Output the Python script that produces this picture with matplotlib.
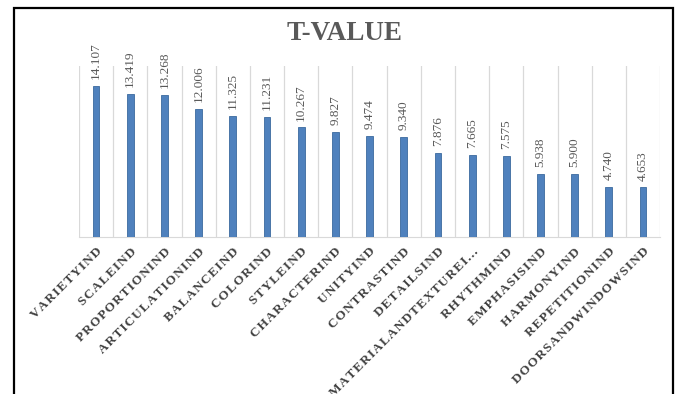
import matplotlib.pyplot as plt
from matplotlib.patches import Rectangle

# Категории и значения t-статистики
names = ['VARIETYIND', 'SCALEIND', 'PROPORTIONIND', 'ARTICULATIONIND',
         'BALANCEIND', 'COLORIND', 'STYLEIND', 'CHARACTERIND', 'UNITYIND',
         'CONTRASTIND', 'DETAILSIND', 'MATERIALANDTEXTUREI...', 'RHYTHMIND',
         'EMPHASISIND', 'HARMONYIND', 'REPETITIONIND', 'DOORSANDWINDOWSIND']
t_values = [14.107, 13.419, 13.268, 12.006, 11.325, 11.231, 10.267, 9.827,
            9.474, 9.340, 7.876, 7.665, 7.575, 5.938, 5.900, 4.740, 4.653]

plt.rcParams['font.family'] = ['Liberation Serif', 'DejaVu Serif']


def spaced(s):
    # разрядка букв узким пробелом
    return '\u200a'.join(s)


fig = plt.figure(figsize=(6.75, 3.94), dpi=100)
ax = fig.add_axes([0.117, 0.398, 0.861, 0.434])

x = list(range(len(names)))
ax.bar(x, t_values, width=0.2, color='#4F81BD', edgecolor='#3B6A9E',
       linewidth=0.6, zorder=3)

# Подписи значений над столбиками
for i, v in zip(x, t_values):
    ax.annotate(f'{v:.3f}', (i, v), xytext=(0, 5), textcoords='offset points',
                rotation=90, ha='center', va='bottom', fontsize=9.5,
                color='#595959')

# Вертикальная сетка между категориями
for g in range(len(names) + 1):
    ax.axvline(g - 0.5, color='#D9D9D9', linewidth=0.9, zorder=1)

ax.set_xlim(-0.5, len(names) - 0.5)
ax.set_ylim(0, 16)
ax.set_yticks([])
ax.set_xticks(x)
ax.set_xticklabels([spaced(n) for n in names], rotation=45, ha='right',
                   rotation_mode='anchor', fontsize=9.5, fontweight='bold',
                   color='#404040')
ax.tick_params(axis='x', length=0, pad=6)
for s in ['left', 'right', 'top']:
    ax.spines[s].set_visible(False)
ax.spines['bottom'].set_color('#D9D9D9')

fig.text(0.51, 0.916, 'T-VALUE', ha='center', va='center', fontsize=19.5,
         fontweight='bold', color='#595959')

# Рамка вокруг полотна
fig.patches.append(Rectangle((14 / 675, -0.1), 659 / 675, 1.1 - 8 / 394,
                             transform=fig.transFigure, fill=False,
                             edgecolor='black', linewidth=1.6))

plt.savefig('out.png', dpi=100)
